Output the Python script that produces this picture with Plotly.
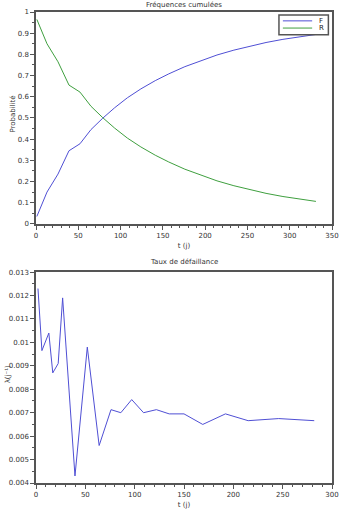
import plotly.graph_objects as go

# Cumulative frequencies
t_cum = [1, 13, 26, 39, 52, 65, 79, 93, 108, 124, 141, 157, 176, 195, 214, 234, 253, 272, 292, 311, 331]
F = [0.035, 0.15, 0.235, 0.345, 0.378, 0.445, 0.499, 0.548, 0.595, 0.637, 0.676, 0.708, 0.742, 0.771,
     0.797, 0.820, 0.839, 0.856, 0.871, 0.883, 0.894]
R = [0.965, 0.85, 0.765, 0.655, 0.622, 0.555, 0.501, 0.452, 0.405, 0.363, 0.324, 0.292, 0.258, 0.229,
     0.203, 0.180, 0.161, 0.144, 0.129, 0.117, 0.106]

# Failure rate
t_rate = [2, 6, 13, 17, 22.5, 27, 39.5, 52, 64, 76, 86, 97, 109, 122, 135, 150, 169, 192, 215, 246, 282]
lam = [0.0123, 0.00965, 0.0104, 0.0087, 0.0091, 0.0119, 0.0043, 0.0098, 0.0056, 0.00713, 0.0070,
       0.00756, 0.0070, 0.00713, 0.00695, 0.00695, 0.0065, 0.00695, 0.00666, 0.00675, 0.00666]

series_names = ["F", "R"]

BLUE = "#4f4fd4"
GREEN = "#3f9f3f"
FONT = "DejaVu Sans"
AX = "#555555"
TXT = "#333333"

fig = go.Figure()
fig.add_trace(go.Scatter(x=t_cum, y=F, mode="lines", name=series_names[0], showlegend=False,
                         line=dict(color=BLUE, width=1), xaxis="x", yaxis="y"))
fig.add_trace(go.Scatter(x=t_cum, y=R, mode="lines", name=series_names[1], showlegend=False,
                         line=dict(color=GREEN, width=1), xaxis="x", yaxis="y"))
fig.add_trace(go.Scatter(x=t_rate, y=lam, mode="lines", name="lambda", showlegend=False,
                         line=dict(color=BLUE, width=1), xaxis="x2", yaxis="y2"))

axcommon = dict(showline=True, linecolor=AX, linewidth=1.5, mirror=True, ticks="outside",
                ticklen=4, tickwidth=1, tickcolor=AX, showgrid=False, zeroline=False,
                ticklabeloverflow="allow",
                tickfont=dict(family=FONT, size=7, color=TXT),
                title_font=dict(family=FONT, size=7, color=TXT))

Y_TOP0, Y_TOP1 = 0.5502, 1.0
def py(px):
    return 1 - (px - 12) / 478.0
def pxx(px):
    return (px - 36) / 303.0

shapes = [
    dict(type="rect", xref="paper", yref="paper", x0=pxx(284.7), x1=pxx(335.3), y0=py(35), y1=py(15),
         line=dict(color=AX, width=1.5), fillcolor="white", layer="above"),
    dict(type="line", xref="paper", yref="paper", x0=pxx(288.7), x1=pxx(318.7), y0=py(21), y1=py(21),
         line=dict(color=BLUE, width=1), layer="above"),
    dict(type="line", xref="paper", yref="paper", x0=pxx(288.7), x1=pxx(318.7), y0=py(28.3), y1=py(28.3),
         line=dict(color=GREEN, width=1), layer="above"),
]

annotations = [
    dict(text="Fréquences cumulées", x=0.5, y=1, xref="paper", yref="paper",
         xanchor="center", yanchor="bottom", yshift=1, showarrow=False,
         font=dict(family=FONT, size=7, color=TXT)),
    dict(text="Taux de défaillance", x=0.5, y=0.4477, xref="paper", yref="paper",
         xanchor="center", yanchor="bottom", yshift=4, showarrow=False,
         font=dict(family=FONT, size=7, color=TXT)),
    dict(text=series_names[0], x=pxx(323.5), y=py(21), xref="paper", yref="paper",
         xanchor="left", yanchor="middle", showarrow=False,
         font=dict(family=FONT, size=7, color="#222")),
    dict(text=series_names[1], x=pxx(323.5), y=py(28.5), xref="paper", yref="paper",
         xanchor="left", yanchor="middle", showarrow=False,
         font=dict(family=FONT, size=7, color="#222")),
    dict(text="Probabilité", x=pxx(12.5), y=py(116), xref="paper", yref="paper",
         xanchor="center", yanchor="middle", textangle=-90, showarrow=False,
         font=dict(family=FONT, size=7, color=TXT)),
    dict(text="λ(j⁻¹)", x=pxx(7), y=py(380), xref="paper", yref="paper",
         xanchor="center", yanchor="middle", textangle=-90, showarrow=False,
         font=dict(family=FONT, size=7, color=TXT)),
]

fig.update_layout(
    width=343, height=512,
    margin=dict(l=36, r=4, t=12, b=22),
    paper_bgcolor="white", plot_bgcolor="white",
    showlegend=False,
    xaxis=dict(domain=[0, 1], range=[0, 350], tick0=0, dtick=50,
               minor=dict(dtick=10, ticks="outside", ticklen=2, tickcolor=AX),
               title=dict(text="t (j)", standoff=4), anchor="y", **axcommon),
    yaxis=dict(domain=[Y_TOP0, Y_TOP1], range=[0, 1], dtick=0.1,
               minor=dict(dtick=0.05, ticks="outside", ticklen=2, tickcolor=AX),
               anchor="x", **axcommon),
    xaxis2=dict(domain=[0, 1], range=[0, 300], tick0=0, dtick=50,
                minor=dict(dtick=10, ticks="outside", ticklen=2, tickcolor=AX),
                title=dict(text="t (j)", standoff=4), anchor="y2", **axcommon),
    yaxis2=dict(domain=[0, 0.4477], range=[0.004, 0.013], dtick=0.001,
                minor=dict(dtick=0.0005, ticks="outside", ticklen=2, tickcolor=AX),
                anchor="x2", **axcommon),
    shapes=shapes,
    annotations=annotations,
)

fig.write_html("out.html")
